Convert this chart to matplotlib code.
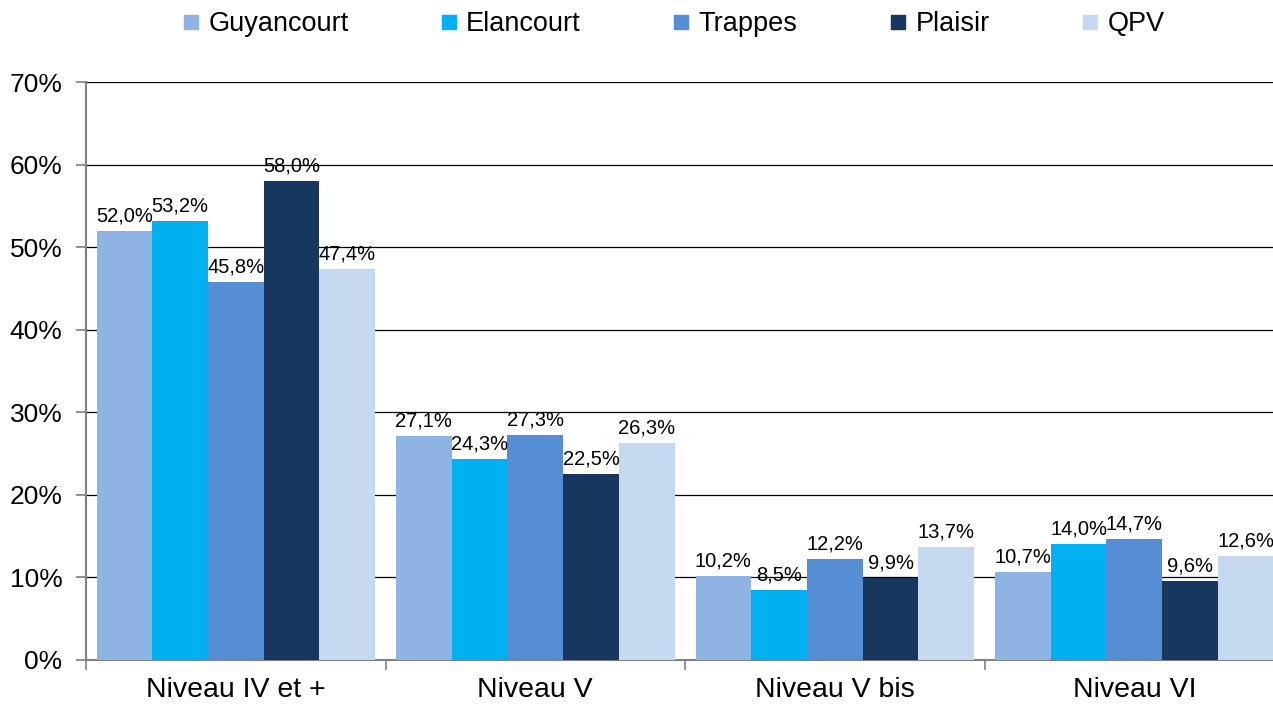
import numpy as np
import matplotlib.pyplot as plt
from matplotlib.lines import Line2D

plt.rcParams['font.family'] = ['Liberation Sans', 'DejaVu Sans']

# data
categories = ["Niveau IV et +", "Niveau V", "Niveau V bis", "Niveau VI"]
series = ["Guyancourt", "Elancourt", "Trappes", "Plaisir", "QPV"]
guyancourt = [52.0, 27.1, 10.2, 10.7]
elancourt = [53.2, 24.3, 8.5, 14.0]
trappes = [45.8, 27.3, 12.2, 14.7]
plaisir = [58.0, 22.5, 9.9, 9.6]
qpv = [47.4, 26.3, 13.7, 12.6]
values = [guyancourt, elancourt, trappes, plaisir, qpv]
colors = ["#8EB4E3", "#00B0F0", "#558ED5", "#17375E", "#C6D9F1"]

fig = plt.figure(figsize=(12.73, 7.07), dpi=100)
ax = fig.add_axes([0.0676, 0.0665, 0.9411, 0.8175])

x = np.arange(len(categories))
w = 0.186
for i, (name, vals, c) in enumerate(zip(series, values, colors)):
    pos = x + (i - 2) * w
    ax.bar(pos, vals, width=w, color=c, zorder=3, label=name)
    for px, v in zip(pos, vals):
        ax.annotate(f"{v:.1f}%".replace(".", ","), (px, v), xytext=(0, 4),
                    textcoords="offset points", ha="center", va="bottom",
                    fontsize=14.5, zorder=4)

ax.set_xlim(-0.5, len(categories) - 0.5)
ax.set_ylim(0, 70)
ax.set_yticks(range(0, 71, 10))
ax.set_yticklabels([f"{t}%" for t in range(0, 71, 10)], fontsize=19)
ax.yaxis.grid(True, color="black", linewidth=0.9, zorder=0)
ax.set_axisbelow(True)

ax.set_xticks(x)
ax.set_xticklabels(categories, fontsize=20.5)
ax.tick_params(axis="x", length=0, pad=12)
ax.set_xticks(np.arange(len(categories) + 1) - 0.5, minor=True)
ax.tick_params(axis="x", which="minor", length=7, color="#808080", width=1.2)
ax.tick_params(axis="y", length=7, color="#808080", width=1.2, pad=10)

for s in ["top", "right"]:
    ax.spines[s].set_visible(False)
for s in ["left", "bottom"]:
    ax.spines[s].set_color("#808080")
    ax.spines[s].set_linewidth(1.5)

handles = [Line2D([], [], marker="s", linestyle="none", markersize=10,
                  markerfacecolor=c, markeredgecolor=c) for c in colors]
fig.legend(handles, series, loc="center", bbox_to_anchor=(0.528, 0.966),
           ncol=5, frameon=False, fontsize=19.5, handletextpad=0.25,
           columnspacing=3.3, handlelength=0.8)

fig.savefig("out.png", dpi=100)
